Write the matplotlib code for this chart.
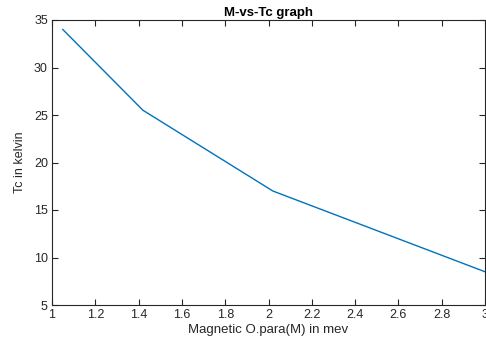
import matplotlib
matplotlib.use("Agg")
import matplotlib.pyplot as plt

m_values = [1.05, 1.42, 2.02, 3.0]
tc_values = [34.0, 25.5, 17.0, 8.5]
xticks = [1, 1.2, 1.4, 1.6, 1.8, 2, 2.2, 2.4, 2.6, 2.8, 3]
yticks = [5, 10, 15, 20, 25, 30, 35]

plt.rcParams['font.family'] = ['Liberation Sans', 'DejaVu Sans']

fig = plt.figure(figsize=(4.86, 3.46), dpi=100)
ax = fig.add_axes([52/486, 1 - 305/346, (485-52)/486, (305-20)/346])
ax.plot(m_values, tc_values, color='#0072BD', linewidth=1.0)
ax.set_xlim(1, 3)
ax.set_ylim(5, 35)
ax.set_xticks(xticks)
ax.set_xticklabels([f"{t:g}" for t in xticks])
ax.set_yticks(yticks)
ax.tick_params(direction='in', length=4, width=0.8, top=True, right=True,
               labelsize=9, colors='#262626', pad=3)
for s in ax.spines.values():
    s.set_linewidth(0.8)
    s.set_color('#262626')
ax.set_xlabel('Magnetic O.para(M) in mev', fontsize=9.5, color='#262626', labelpad=2)
ax.set_ylabel('Tc in kelvin', fontsize=9, color='#262626', labelpad=6)
ax.set_title('M-vs-Tc graph', fontsize=9.5, fontweight='bold', pad=3)
fig.savefig('out.png', dpi=100)
